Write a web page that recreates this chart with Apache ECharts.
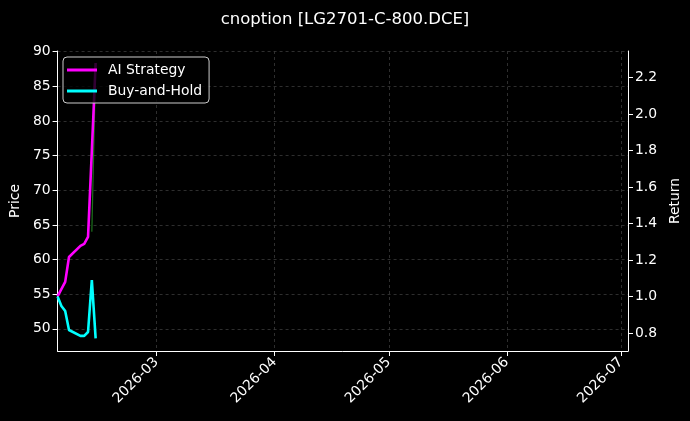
<!DOCTYPE html>
<html>
<head>
<meta charset="utf-8">
<script src="https://cdn.jsdelivr.net/npm/echarts@6/dist/echarts.min.js"></script>
<style>
html,body{margin:0;padding:0;background:#000;}
#chart{width:690px;height:421px;}
</style>
</head>
<body>
<div id="chart"></div>
<script>
// ---- data ----
var dates = ['2026-02-03','2026-02-04','2026-02-05','2026-02-06','2026-02-09','2026-02-10','2026-02-11','2026-02-12','2026-02-13'];
var aiStrategy = [1.00, 1.04, 1.08, 1.216, 1.277, 1.288, 1.326, 1.80, 2.279];
var buyAndHold = [1.00, 0.948, 0.92, 0.816, 0.784, 0.784, 0.805, 1.09, 0.77];
var price = [null, null, null, null, null, null, null, 64.0, 88.0];
var monthTicks = ['2026-03-01','2026-04-01','2026-05-01','2026-06-01','2026-07-01'];
var priceTicks = [50, 55, 60, 65, 70, 75, 80, 85, 90];
var returnTicks = [0.8, 1.0, 1.2, 1.4, 1.6, 1.8, 2.0, 2.2];

function ts(s){ var p = s.split('-'); return Date.UTC(+p[0], +p[1]-1, +p[2]); }
var xMin = ts('2026-02-03');
var xMax = ts('2026-07-02') + 20*3600*1000;
var monthTs = monthTicks.map(ts);
var dateTs = dates.map(ts);

var FONT = 'DejaVu Sans';
var FS = 13.9;
var chart = echarts.init(document.getElementById('chart'));
var axisLineStyle = {color:'#ffffff', width:1};

chart.setOption({
  backgroundColor:'#000000',
  animation:false,
  textStyle:{fontFamily:FONT},
  title:{
    text:'cnoption [LG2701-C-800.DCE]',
    left:'center', top:6,
    textStyle:{color:'#ffffff', fontSize:16.5, fontWeight:'normal', fontFamily:FONT}
  },
  legend:{
    orient:'vertical',
    left:63, top:57,
    padding:[6,7,5,4],
    itemGap:7,
    itemWidth:30, itemHeight:3,
    icon:'rect',
    backgroundColor:'rgba(0,0,0,0.8)',
    borderColor:'#cccccc', borderWidth:1, borderRadius:4,
    textStyle:{color:'#ffffff', fontSize:FS, fontFamily:FONT, padding:[0,0,0,6]},
    data:['AI Strategy','Buy-and-Hold']
  },
  grid:{left:57, right:61, top:51, bottom:70, containLabel:false},
  xAxis:{
    type:'value',
    min:xMin, max:xMax,
    axisLine:{show:true, lineStyle:axisLineStyle},
    axisTick:{show:true, length:5, lineStyle:axisLineStyle, customValues:monthTs},
    axisLabel:{
      color:'#ffffff', fontSize:FS, fontFamily:FONT, rotate:45, margin:9,
      customValues:monthTs,
      formatter:function(v){ var d=new Date(v); var m=d.getUTCMonth()+1; return d.getUTCFullYear()+'-'+(m<10?'0'+m:m); }
    },
    splitLine:{show:true, lineStyle:{color:'#3a3a3a', type:[3,3], width:0.8}}
  },
  yAxis:[{
    type:'value',
    min:46.8, max:90.1,
    position:'left',
    name:'Price', nameLocation:'middle', nameGap:35, nameRotate:90,
    nameTextStyle:{color:'#ffffff', fontSize:FS, fontFamily:FONT},
    axisLine:{show:true, lineStyle:axisLineStyle},
    axisTick:{show:true, length:5, lineStyle:axisLineStyle, customValues:priceTicks},
    axisLabel:{color:'#ffffff', fontSize:FS, fontFamily:FONT, margin:7, customValues:priceTicks},
    splitLine:{show:true, lineStyle:{color:'#3a3a3a', type:[3,3], width:0.8}}
  },{
    type:'value',
    min:0.701, max:2.345,
    position:'right',
    name:'Return', nameLocation:'middle', nameGap:38, nameRotate:90,
    nameTextStyle:{color:'#ffffff', fontSize:FS, fontFamily:FONT},
    axisLine:{show:true, lineStyle:axisLineStyle},
    axisTick:{show:true, length:5, lineStyle:axisLineStyle, customValues:returnTicks},
    axisLabel:{color:'#ffffff', fontSize:FS, fontFamily:FONT, margin:7, customValues:returnTicks,
      formatter:function(v){ return v.toFixed(1); }},
    splitLine:{show:false}
  }],
  series:[{
    name:'Price',
    type:'line',
    yAxisIndex:0,
    data:dateTs.map(function(d,i){ return [d, price[i]]; }),
    showSymbol:false,
    connectNulls:false,
    lineStyle:{color:'rgba(40,160,40,0.7)', width:1.2},
    itemStyle:{color:'rgba(40,160,40,0.7)'},
    z:1
  },{
    name:'AI Strategy',
    type:'line',
    yAxisIndex:1,
    data:dateTs.map(function(d,i){ return [d, aiStrategy[i]]; }),
    showSymbol:false,
    lineStyle:{color:'#ff00ff', width:2.6},
    itemStyle:{color:'#ff00ff'},
    z:3
  },{
    name:'Buy-and-Hold',
    type:'line',
    yAxisIndex:1,
    data:dateTs.map(function(d,i){ return [d, buyAndHold[i]]; }),
    showSymbol:false,
    lineStyle:{color:'#00ffff', width:2.6},
    itemStyle:{color:'#00ffff'},
    z:3
  }]
});
</script>
</body>
</html>
